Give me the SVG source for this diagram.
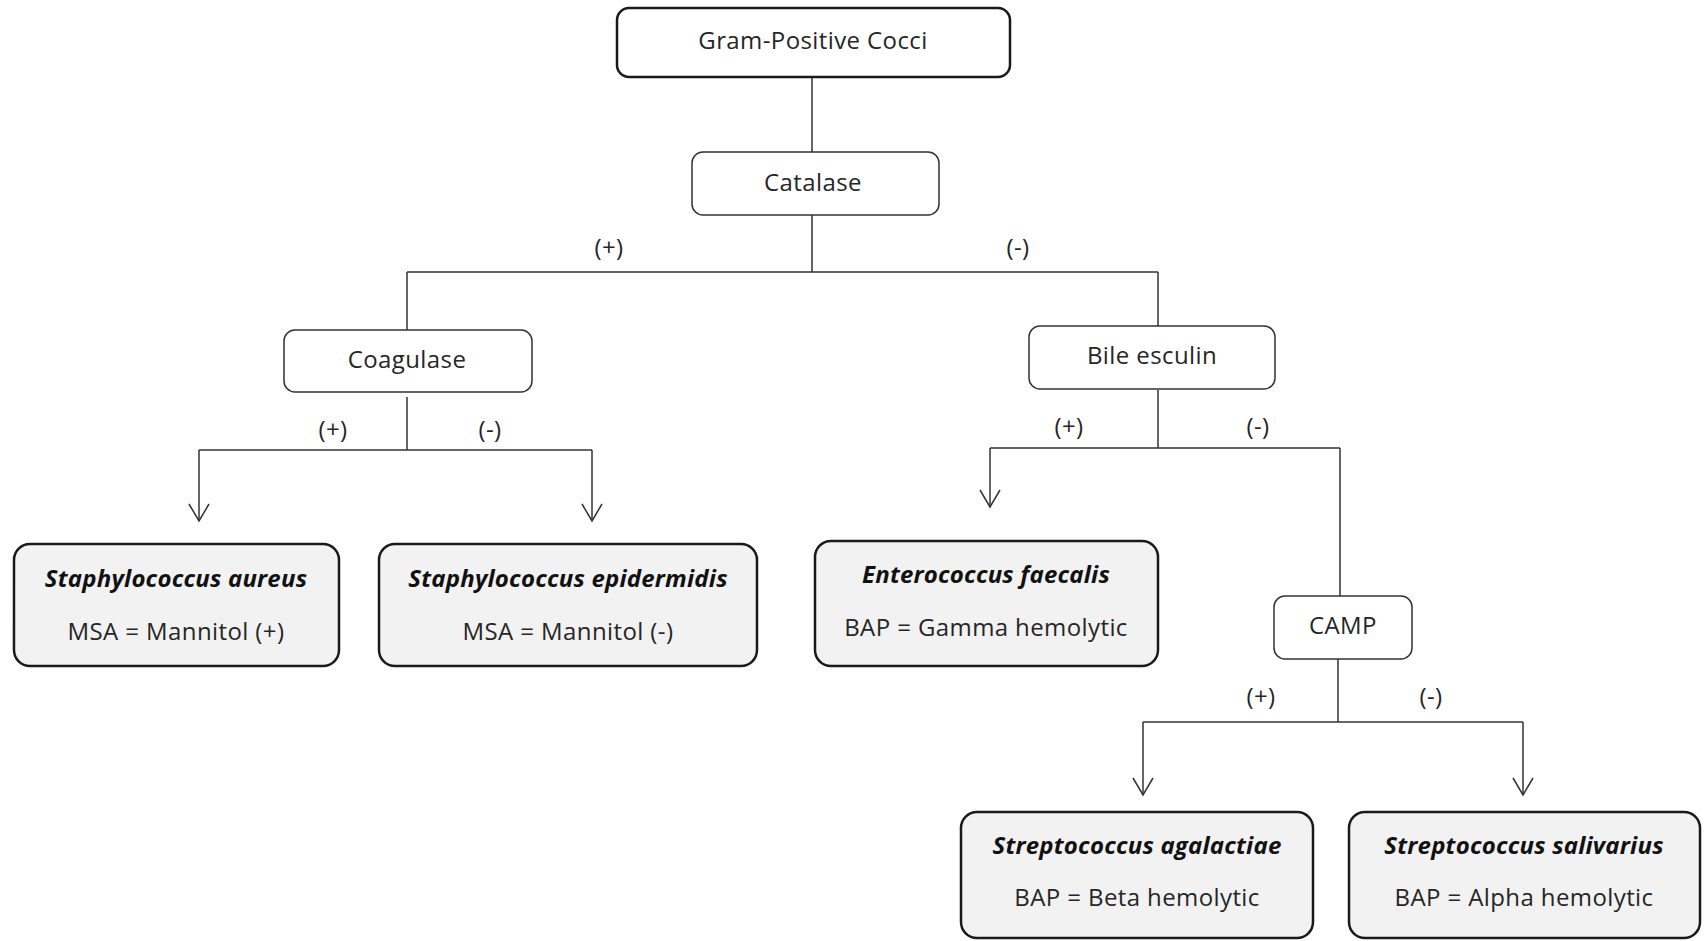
<svg xmlns="http://www.w3.org/2000/svg" width="1706" height="941" viewBox="0 0 1706 941">
<style>
.t{font-family:"Open Sans","Liberation Sans",sans-serif;font-size:24px;letter-spacing:0.4px;fill:#262626;text-anchor:middle}
.ti{font-weight:bold;font-style:italic;fill:#111;letter-spacing:0.2px}
.test{fill:#fff;stroke:#333;stroke-width:1.5}
.top{fill:#fff;stroke:#1a1a1a;stroke-width:2.5}
.leaf{fill:#f2f2f2;stroke:#1a1a1a;stroke-width:2.5}
.c{fill:none;stroke:#333;stroke-width:1.5}
</style>
<defs>
<marker id="ah" markerWidth="24" markerHeight="20" refX="11" refY="18" orient="0" markerUnits="userSpaceOnUse">
<path d="M1,1 L11,18 L21,1" fill="none" stroke="#333" stroke-width="1.5"/>
</marker>
</defs>
<g id="connectors">
<path class="c" d="M812,77 V152"/>
<path class="c" d="M812,215 V272 M407,272 H1158 M407,272 V330 M1158,272 V326"/>
<path class="c" d="M407,397 V450 M199,450 H592"/>
<path class="c" d="M199,450 V521" marker-end="url(#ah)"/>
<path class="c" d="M592,450 V521" marker-end="url(#ah)"/>
<path class="c" d="M1158,390 V448 M990,448 H1340 M1340,448 V596"/>
<path class="c" d="M990,448 V507" marker-end="url(#ah)"/>
<path class="c" d="M1338,659 V722 M1143,722 H1523"/>
<path class="c" d="M1143,722 V795" marker-end="url(#ah)"/>
<path class="c" d="M1523,722 V795" marker-end="url(#ah)"/>
<text class="t" x="609" y="256">(+)</text>
<text class="t" x="1018" y="256">(-)</text>
<text class="t" x="333" y="438">(+)</text>
<text class="t" x="490" y="438">(-)</text>
<text class="t" x="1069" y="435">(+)</text>
<text class="t" x="1258" y="435">(-)</text>
<text class="t" x="1261" y="705">(+)</text>
<text class="t" x="1431" y="705">(-)</text>
</g>
<g id="gram">
<rect class="top" x="617" y="8" width="393" height="69" rx="12"/>
<text class="t" x="813" y="49">Gram-Positive Cocci</text>
</g>
<g id="catalase">
<rect class="test" x="692" y="152" width="247" height="63" rx="11"/>
<text class="t" x="813" y="191">Catalase</text>
</g>
<g id="coagulase">
<rect class="test" x="284" y="330" width="248" height="62" rx="11"/>
<text class="t" x="407" y="368">Coagulase</text>
</g>
<g id="bile">
<rect class="test" x="1029" y="326" width="246" height="63" rx="11"/>
<text class="t" x="1152" y="364">Bile esculin</text>
</g>
<g id="camp">
<rect class="test" x="1274" y="596" width="138" height="63" rx="11"/>
<text class="t" x="1343" y="634">CAMP</text>
</g>
<g id="saureus">
<rect class="leaf" x="14" y="544" width="325" height="122" rx="16"/>
<text class="t ti" x="176" y="587">Staphylococcus aureus</text>
<text class="t" x="176" y="640">MSA = Mannitol (+)</text>
</g>
<g id="sepidermidis">
<rect class="leaf" x="379" y="544" width="378" height="122" rx="16"/>
<text class="t ti" x="568" y="587">Staphylococcus epidermidis</text>
<text class="t" x="568" y="640">MSA = Mannitol (-)</text>
</g>
<g id="efaecalis">
<rect class="leaf" x="815" y="541" width="343" height="125" rx="16"/>
<text class="t ti" x="986" y="583">Enterococcus faecalis</text>
<text class="t" x="986" y="636">BAP = Gamma  hemolytic</text>
</g>
<g id="sagalactiae">
<rect class="leaf" x="961" y="812" width="352" height="126" rx="16"/>
<text class="t ti" x="1137" y="854">Streptococcus agalactiae</text>
<text class="t" x="1137" y="906">BAP = Beta hemolytic</text>
</g>
<g id="ssalivarius">
<rect class="leaf" x="1349" y="812" width="351" height="126" rx="16"/>
<text class="t ti" x="1524" y="854">Streptococcus salivarius</text>
<text class="t" x="1524" y="906">BAP = Alpha hemolytic</text>
</g>
</svg>
